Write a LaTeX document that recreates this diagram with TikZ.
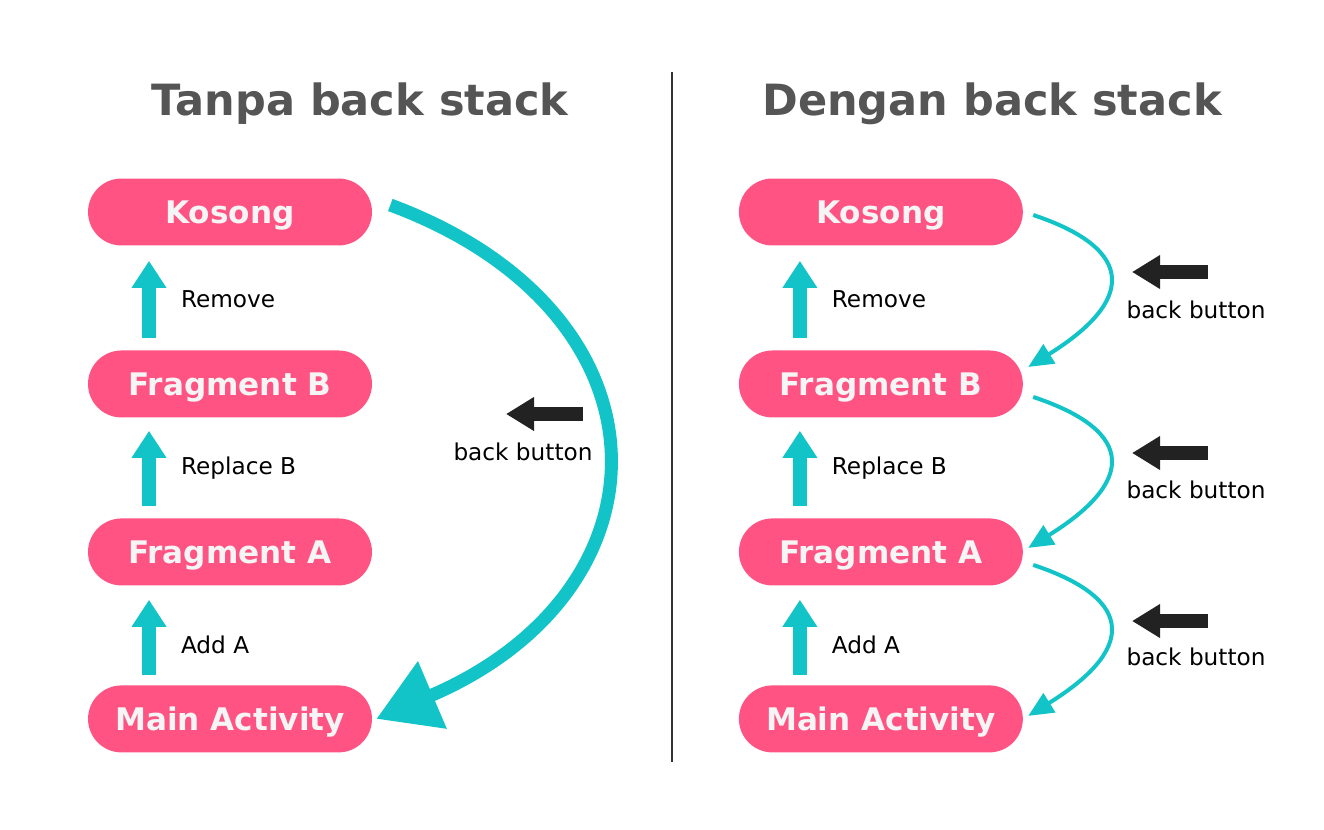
\documentclass[tikz,border=0pt]{standalone}
\usepackage{fontspec}
\setmainfont{DejaVu Sans}
\usetikzlibrary{arrows.meta, positioning}
\definecolor{pillpink}{HTML}{FF5483}
\definecolor{stackcyan}{HTML}{12C4C7}
\definecolor{titlegray}{HTML}{555555}
\definecolor{btnblack}{HTML}{222222}

\tikzset{
  pill/.style={fill=pillpink, text=white!96!black, rounded corners=0.67cm, text depth=0pt,
    minimum width=5.68cm, minimum height=1.34cm, font=\fontsize{17.7}{22}\selectfont\bfseries},
  heading/.style={text=titlegray, font=\fontsize{24.5}{30}\selectfont\bfseries},
  lbl/.style={inner sep=0pt, text=black, font=\fontsize{13.2}{16}\selectfont},
  pusharrow/.style={stackcyan, line width=0.28cm, -{Triangle[width=0.66cm, length=0.54cm]}},
  bigback/.style={stackcyan, line width=0.26cm, -{Triangle[width=1.4cm, length=1.22cm]}},
  popback/.style={stackcyan, line width=0.08cm, -{Triangle[width=0.44cm, length=0.5cm]}},
  btnarrow/.style={btnblack, line width=0.28cm, -{Triangle[width=0.64cm, length=0.56cm]}},
}

\begin{document}
\begin{tikzpicture}[x=0.02cm, y=-0.02cm, node distance=3.38cm]
    \useasboundingbox (0,0) rectangle (1324,830);

    \node[heading] (titleL) at (360,104) {Tanpa back stack};
    \node[heading] (titleR) at (992,104) {Dengan back stack};
    \draw[line width=0.03cm, black!80] (672,72) -- (672,762);

    % tanpa back stack
    \node[pill] (kosongL) at (230,212) {Kosong};
    \node[pill, below of=kosongL, node distance=3.44cm] (fragBL) {Fragment B};
    \node[pill, below of=fragBL, node distance=3.36cm] (fragAL) {Fragment A};
    \node[pill, below of=fragAL, node distance=3.34cm] (mainL) {Main Activity};

    \draw[pusharrow] ([xshift=-1.62cm, yshift=0.24cm]fragBL.north) -- node[lbl, right=0.5cm] {Remove} ([xshift=-1.62cm, yshift=-0.3cm]kosongL.south);
    \draw[pusharrow] ([xshift=-1.62cm, yshift=0.24cm]fragAL.north) -- node[lbl, right=0.5cm] {Replace B} ([xshift=-1.62cm, yshift=-0.26cm]fragBL.south);
    \draw[pusharrow] ([xshift=-1.62cm, yshift=0.2cm]mainL.north) -- node[lbl, right=0.5cm, yshift=-0.14cm] {Add A} ([xshift=-1.62cm, yshift=-0.28cm]fragAL.south);

    \draw[bigback] ([xshift=0.36cm, yshift=0.14cm]kosongL.east) .. controls +(5.76cm,-2.14cm) and +(6.04cm,2.58cm) .. ([xshift=0.08cm]mainL.east);

    \node[lbl] (backL) at (523,452) {back button};
    \draw[btnarrow] ([xshift=1.2cm, yshift=0.76cm]backL.center) -- ([xshift=-0.34cm, yshift=0.76cm]backL.center);

    % dengan back stack
    \node[pill, right of=kosongL, node distance=13.02cm] (kosongR) {Kosong};
    \node[pill, below of=kosongR, node distance=3.44cm] (fragBR) {Fragment B};
    \node[pill, below of=fragBR, node distance=3.36cm] (fragAR) {Fragment A};
    \node[pill, below of=fragAR, node distance=3.34cm] (mainR) {Main Activity};

    \draw[pusharrow] ([xshift=-1.62cm, yshift=0.24cm]fragBR.north) -- node[lbl, right=0.5cm] {Remove} ([xshift=-1.62cm, yshift=-0.3cm]kosongR.south);
    \draw[pusharrow] ([xshift=-1.62cm, yshift=0.24cm]fragAR.north) -- node[lbl, right=0.5cm] {Replace B} ([xshift=-1.62cm, yshift=-0.26cm]fragBR.south);
    \draw[pusharrow] ([xshift=-1.62cm, yshift=0.2cm]mainR.north) -- node[lbl, right=0.5cm, yshift=-0.14cm] {Add A} ([xshift=-1.62cm, yshift=-0.28cm]fragAR.south);

    \draw[popback] ([xshift=0.2cm, yshift=-0.06cm]kosongR.east) .. controls +(2.1cm,-0.7cm) and +(2.1cm,1.3cm) .. ([xshift=0.1cm, yshift=0.34cm]fragBR.east);
    \draw[popback] ([xshift=0.2cm, yshift=-0.26cm]fragBR.east) .. controls +(2.1cm,-0.7cm) and +(2.1cm,1.3cm) .. ([xshift=0.1cm, yshift=0.08cm]fragAR.east);
    \draw[popback] ([xshift=0.2cm, yshift=-0.26cm]fragAR.east) .. controls +(2.1cm,-0.7cm) and +(2.1cm,1.3cm) .. ([xshift=0.1cm, yshift=0.06cm]mainR.east);

    \node[lbl] (back1) at (1196,310) {back button};
    \node[lbl] (back2) at (1196,490) {back button};
    \node[lbl] (back3) at (1196,657) {back button};
    \draw[btnarrow] ([xshift=0.24cm, yshift=0.76cm]back1.center) -- ([xshift=-1.28cm, yshift=0.76cm]back1.center);
    \draw[btnarrow] ([xshift=0.24cm, yshift=0.74cm]back2.center) -- ([xshift=-1.28cm, yshift=0.74cm]back2.center);
    \draw[btnarrow] ([xshift=0.24cm, yshift=0.72cm]back3.center) -- ([xshift=-1.28cm, yshift=0.72cm]back3.center);
\end{tikzpicture}
\end{document}
